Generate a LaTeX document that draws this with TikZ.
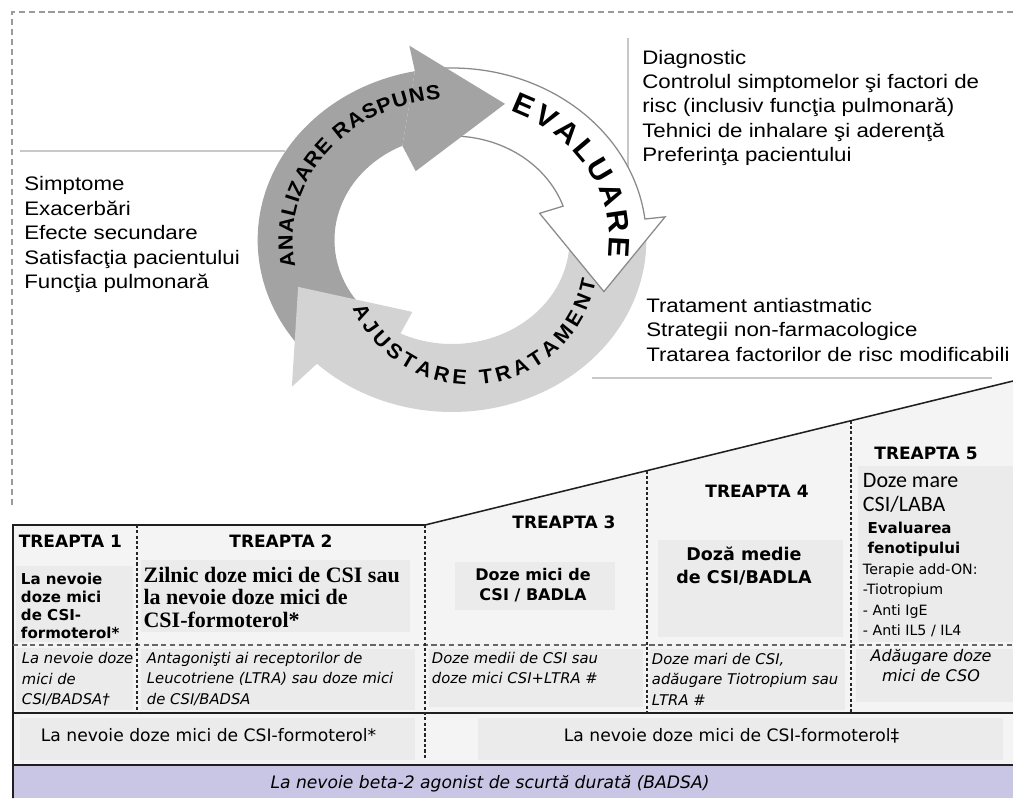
\documentclass[tikz,border=0pt]{standalone}
\usepackage{fontspec}
\usetikzlibrary{decorations.text}
\setmainfont{DejaVu Sans}
\newfontfamily\sidefont{Liberation Sans}[FakeStretch=1.14]
\newfontfamily\arcfont{Liberation Sans}[FakeStretch=1.05]
\newfontfamily\tabfont{DejaVu Sans}
\newfontfamily\tabserif{Liberation Serif}
\newfontfamily\tabcal{Carlito}

\definecolor{darkarrow}{HTML}{A3A3A3}
\definecolor{lightarrow}{HTML}{D3D3D3}
\definecolor{outlinegrey}{HTML}{8A8A8A}
\definecolor{rulegrey}{HTML}{C8C8C8}
\definecolor{framegrey}{HTML}{9A9A9A}
\definecolor{cellbg}{HTML}{F4F4F4}
\definecolor{textbg}{HTML}{EBEBEB}
\definecolor{saba}{HTML}{C9C5E5}

% ring geometry (pixel units, y downwards, angles clockwise from east)
\def\rgcx{452}\def\rgcy{240}\def\rgsx{1.13}
\def\rgin{104}\def\rgout{172}

% a point of the ring: angle, radius
\newcommand{\rgpt}[2]{({\rgcx+\rgsx*(#2)*cos(#1)},{\rgcy+(#2)*sin(#1)})}

% plain ring band: options, from, outer end, inner end
\newcommand{\ringband}[4]{%
  \path[#1] plot[domain=#2:#3,samples=60] ({\rgcx+\rgsx*\rgout*cos(\x)},{\rgcy+\rgout*sin(\x)})
    -- plot[domain=#4:#2,samples=60] ({\rgcx+\rgsx*\rgin*cos(\x)},{\rgcy+\rgin*sin(\x)}) -- cycle;}
% arrow head alone: options, outer base angle, outer wing radius, inner base angle, inner wing radius, tip angle
\newcommand{\ringhead}[6]{%
  \path[#1] \rgpt{#2}{\rgout} -- \rgpt{#2}{#3} -- \rgpt{#6}{144}
    -- \rgpt{#4}{#5} -- \rgpt{#4}{\rgin} -- cycle;}
% full arrow: options, start, outer base angle, outer wing radius, inner base angle, inner wing radius, tip angle
\newcommand{\ringarrow}[7]{%
  \path[#1] plot[domain=#2:#3,samples=60] ({\rgcx+\rgsx*\rgout*cos(\x)},{\rgcy+\rgout*sin(\x)})
    -- \rgpt{#3}{#4} -- \rgpt{#7}{144} -- \rgpt{#5}{#6}
    -- plot[domain=#5:#2,samples=60] ({\rgcx+\rgsx*\rgin*cos(\x)},{\rgcy+\rgin*sin(\x)}) -- cycle;}
% lettering along the ring: from, to, radius, text
\newcommand{\ringtext}[4]{%
  \path[decorate,decoration={text along path,text align=fit to path,text={#4}}]
    \rgpt{#1}{#3}
    arc[start angle=#1,end angle=#2,x radius={\rgsx*#3},y radius=#3];}

\newcommand{\arcsmall}{\arcfont\bfseries\fontsize{14.6pt}{17pt}\selectfont}
\newcommand{\arcbig}{\arcfont\bfseries\fontsize{21pt}{24pt}\selectfont}

\begin{document}
\begin{tikzpicture}[x=0.025cm,y=-0.025cm,
  framedash/.style={draw=framegrey,line width=0.8pt,dash pattern=on 4.3pt off 2.8pt},
  rule/.style={draw=rulegrey,line width=1.4pt},
  tabline/.style={draw=black!88,line width=1.1pt},
  tabdash/.style={draw=black!85,line width=0.9pt,dash pattern=on 2.2pt off 1.6pt},
  rowdash/.style={draw=black!60,line width=0.8pt,dash pattern=on 3.6pt off 2.6pt},
  sidetxt/.style={anchor=north west,inner sep=0pt,align=left,
    font=\sidefont\fontsize{13.9pt}{17.36pt}\selectfont},
  stephead/.style={anchor=base,inner sep=0pt,font=\tabfont\bfseries\fontsize{12.1pt}{14pt}\selectfont},
  noteit/.style={anchor=north west,inner sep=0pt,align=left,
    font=\tabfont\itshape\fontsize{10.5pt}{14.7pt}\selectfont},
  asneeded/.style={anchor=base,inner sep=0pt,font=\tabfont\fontsize{12.2pt}{14pt}\selectfont}]

\useasboundingbox (0,0) rectangle (1013,798);
\fill[white] (0,0) rectangle (1013,798);

% outer dashed frame of the cycle area
\draw[framedash] (1013,12) -- (12,12) -- (12,508);

% rules beside the cycle
\draw[rule] (20,151) -- (285,151);
\draw[rule,line width=1pt] (628,38) -- (628,215);
\draw[rule] (592,378) -- (992,378);

% the three circular arrows
\ringband{fill=darkarrow}{140}{259}{245}
\ringarrow{fill=lightarrow}{358}{494}{204}{476}{80}{521}
\ringarrow{fill=white,draw=outlinegrey,line width=0.9pt}{266}{353}{190}{341}{82}{381}
\ringhead{fill=darkarrow}{259}{198}{245}{76}{289}

\ringtext{169}{266}{141}{|\arcsmall|ANALIZARE RASPUNS}
\ringtext{292}{367}{139}{|\arcbig|EVALUARE}
% the lower lettering follows its own, slightly offset circle
\path[decorate,decoration={text along path,text align=fit to path,
    text={|\arcsmall|AJUSTARE TRATAMENT}}]
  ({470+128*cos(156.5)},{257+128*sin(156.5)})
  arc[start angle=156.5,end angle=10.7,radius=128];

% notes around the cycle
\node[sidetxt] (evalnotes) at (642,49.7) {Diagnostic\\Controlul simptomelor şi factori de\\risc (inclusiv funcţia pulmonară)\\Tehnici de inhalare şi aderenţă\\Preferinţa pacientului};
\node[sidetxt] (respnotes) at (24,176.4) {Simptome\\Exacerbări\\Efecte secundare\\Satisfacţia pacientului\\Funcţia pulmonară};
\node[sidetxt] (adjnotes) at (646,298) {Tratament antiastmatic\\Strategii non-farmacologice\\Tratarea factorilor de risc modificabili};

% step table background
\fill[cellbg] (13,525) -- (425,525) -- (1013,381) -- (1013,765) -- (13,765) -- cycle;
\fill[textbg] (16,566) rectangle (133,642);
\fill[textbg] (141,560) rectangle (410,632);
\fill[textbg] (455,562) rectangle (615,610);
\fill[textbg] (658,540) rectangle (843,637);
\fill[textbg] (858,466) rectangle (1013,642);
\fill[textbg] (16,648) rectangle (133,710);
\fill[textbg] (141,649) rectangle (415,710);
\fill[textbg] (429,649) rectangle (643,707);
\fill[textbg] (650,649) rectangle (845,710);
\fill[textbg] (856,649) rectangle (1013,702);
\fill[textbg] (20,718) rectangle (415,760);
\fill[textbg] (478,718) rectangle (1003,760);
\fill[saba] (13,765) rectangle (1013,798);

% table rules
\draw[tabline] (13,798) -- (13,525) -- (425,525) -- (1013,381);
\draw[tabline] (13,713) -- (1013,713);
\draw[tabline] (13,765) -- (1013,765);
\draw[rowdash] (13,645) -- (1013,645);
\draw[tabdash] (137,525) -- (137,713);
\draw[tabdash] (425,525) -- (425,758);
\draw[tabdash] (647,470.5) -- (647,713);
\draw[tabdash] (851,420.7) -- (851,713);

% step headings
\node[stephead,anchor=base west] (s1) at (18.5,547) {TREAPTA 1};
\node[stephead] (s2) at (281,547.7) {TREAPTA 2};
\node[stephead] (s3) at (564,528) {TREAPTA 3};
\node[stephead] (s4) at (757,497) {TREAPTA 4};
\node[stephead] (s5) at (926,459) {TREAPTA 5};

% preferred controller
\node[anchor=north west,inner sep=0pt,align=left,font=\tabfont\bfseries\fontsize{10.7pt}{12.9pt}\selectfont]
  (c1) at (20.7,572.3) {La nevoie\\doze mici\\de CSI-\\formoterol*};
\node[anchor=north west,inner sep=0pt,align=left,font=\tabserif\bfseries\fontsize{15.65pt}{16pt}\selectfont]
  (c2) at (143.3,566.8) {Zilnic doze mici de CSI sau\\la nevoie doze mici de\\CSI-formoterol*};
\node[anchor=north,inner sep=0pt,align=center,font=\tabfont\bfseries\fontsize{11.4pt}{14.7pt}\selectfont]
  (c3) at (533,567.8) {Doze mici de\\CSI / BADLA};
\node[anchor=north,inner sep=0pt,align=center,font=\tabfont\bfseries\fontsize{12.45pt}{16.1pt}\selectfont]
  (c4) at (744,546.7) {Doză medie\\de CSI/BADLA};
\node[anchor=north west,inner sep=0pt,align=left,font=\tabcal\fontsize{15.65pt}{17.4pt}\selectfont]
  (c5a) at (862.7,473.1) {Doze mare\\CSI/LABA};
\node[anchor=north west,inner sep=0pt,align=left,font=\tabfont\bfseries\fontsize{10.7pt}{13.8pt}\selectfont]
  (c5b) at (867.3,521.9) {Evaluarea\\fenotipului};
\node[anchor=north west,inner sep=0pt,align=left,font=\tabfont\fontsize{10.1pt}{14.4pt}\selectfont]
  (c5c) at (862.7,563.5) {Terapie add-ON:\\-Tiotropium\\- Anti IgE\\- Anti IL5 / IL4};

% other controller options
\node[noteit] (o1) at (21.7,652) {La nevoie doze\\mici de\\CSI/BADSA†};
\node[noteit] (o2) at (146.7,651.8) {Antagonişti ai receptorilor de\\Leucotriene (LTRA) sau doze mici\\de CSI/BADSA};
\node[noteit] (o3) at (431.7,651.8) {Doze medii de CSI sau\\doze mici CSI+LTRA \#};
\node[noteit] (o4) at (651.7,652.8) {Doze mari de CSI,\\adăugare Tiotropium sau\\LTRA \#};
\node[noteit,anchor=north,align=center,font=\tabfont\itshape\fontsize{11.4pt}{14.2pt}\selectfont]
  (o5) at (931,649.5) {Adăugare doze\\mici de CSO};

% reliever rows
\node[asneeded] (r1) at (208.5,741.7) {La nevoie doze mici de CSI-formoterol*};
\node[asneeded] (r2) at (731.5,741.7) {La nevoie doze mici de CSI-formoterol‡};
\node[asneeded,font=\tabfont\itshape\fontsize{12.2pt}{14pt}\selectfont] (r3) at (490,788) {La nevoie beta-2 agonist de scurtă durată (BADSA)};

\end{tikzpicture}
\end{document}
